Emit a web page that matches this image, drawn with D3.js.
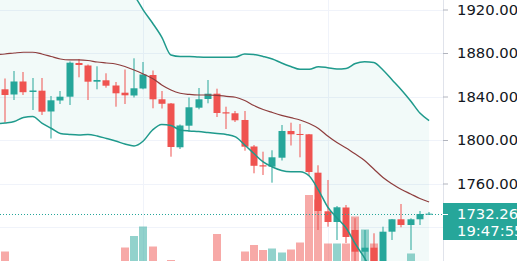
<!DOCTYPE html>
<html><head><meta charset="utf-8">
<script src="https://cdn.jsdelivr.net/npm/d3@7/dist/d3.min.js"></script>
<style>html,body{margin:0;padding:0;background:#fff;overflow:hidden}svg{display:block}</style>
</head><body><svg id="c" width="517" height="261"></svg>
<script>
// index of each bar (bar -1 is just outside the left edge)
const bars = d3.range(-1, 47);
const open  = [1845,1846.63,1841.85,1853.80,1844.15,1845.34,1826.22,1836.33,1839.82,1870.81,1868.51,1853.62,1854.90,1850.12,1843.50,1840.93,1847.36,1859.78,1837.43,1833.57,1793.30,1813.16,1829.71,1837.71,1842.58,1825.48,1824.56,1818.40,1794.03,1776.75,1775.46,1783.73,1808.29,1805.53,1805.25,1769.94,1734.45,1724.61,1737.94,1717.25,1697.30,1700.98,1685.99,1715.69,1727.09,1721.85,1727.09,1731.97];
const high  = [1850,1856.56,1863.46,1862.54,1857.02,1857.02,1840.47,1845.07,1872.19,1874.49,1869.43,1867.78,1861.34,1853.34,1864.83,1875.13,1871.73,1863.92,1845.07,1834.03,1814.26,1839.09,1847.82,1855.18,1847.18,1830.63,1826.68,1826.68,1795.41,1789.25,1790.54,1813.80,1815.92,1814.72,1805.53,1776.75,1763.23,1739.32,1740.24,1728.01,1717.25,1714.22,1720.29,1727.37,1741.16,1728.01,1734.73,1733.81];
const low   = [1838,1816.10,1836.79,1841.39,1827.59,1823.00,1801.39,1833.11,1832.19,1857.66,1836.79,1846.63,1848.10,1830.63,1833.11,1839.09,1846.63,1829.16,1828.97,1784.65,1791.73,1807.64,1828.24,1833.76,1821.16,1810.12,1816.56,1790.17,1769.39,1767.83,1760.75,1781.16,1794.95,1784.10,1766.91,1717.25,1720.29,1708.06,1705.30,1687.83,1687.83,1682.31,1682.31,1708.06,1719.74,1698.86,1721.85,1731.05];
const close = [1847,1841.39,1853.80,1843.96,1845.53,1826.03,1836.51,1839.82,1871.09,1868.97,1853.62,1855.18,1849.94,1842.95,1841.11,1847.55,1860.24,1837.43,1833.30,1793.57,1813.34,1830.08,1837.43,1842.58,1824.84,1824.38,1818.12,1793.85,1776.29,1775.64,1784.10,1808.29,1805.25,1804.88,1770.59,1734.73,1724.61,1738.13,1710.82,1697.30,1700.98,1685.99,1715.69,1727.09,1721.85,1727.09,1731.97,1732.26];
const volume = [30,47,20,15,18,22,25,12,26,14,18,20,16,22,55,78,97,57,24,30,20,18,22,16,82,24,20,47,60,50,53,45,51,65,160,151,63,63,63,117,91,63,26,20,18,43,20,10];
const bbUpper = [1965.5,1965.5,1965.5,1965.5,1965.5,1965.5,1965.5,1965.5,1963.7,1961.8,1960.9,1959.1,1956.3,1951.7,1945.3,1933.3,1919.5,1907.6,1894.7,1878.2,1876.8,1876.8,1876.3,1876.1,1876.1,1876.1,1876.3,1879.1,1878.6,1876.8,1874.5,1870.8,1867.6,1865.0,1865.0,1867.4,1866.5,1865.3,1865.8,1870.4,1872.0,1871.3,1864.4,1855.2,1846.0,1835.9,1824.8,1817.9];
const bbBasis = [1878.6,1879.1,1880.0,1880.7,1880.7,1879.1,1876.8,1874.5,1873.6,1873.6,1873.1,1871.7,1870.8,1869.9,1867.6,1864.4,1860.7,1856.6,1850.6,1846.0,1843.0,1841.9,1841.4,1841.4,1841.1,1840.2,1839.3,1836.3,1831.7,1828.1,1825.3,1822.7,1820.5,1818.4,1815.2,1810.6,1803.7,1797.7,1792.7,1787.1,1781.2,1773.3,1765.5,1759.6,1754.5,1750.4,1746.2,1743.0];
const bbLower = [1814.7,1815.6,1817.0,1820.7,1821.6,1815.6,1810.8,1806.0,1805.1,1804.6,1805.1,1803.7,1801.4,1799.1,1796.3,1794.5,1799.1,1809.2,1814.3,1813.3,1809.2,1808.3,1807.8,1806.9,1806.0,1805.1,1802.8,1795.4,1787.6,1779.8,1775.2,1772.0,1770.9,1770.9,1766.9,1754.0,1738.4,1728.3,1719.1,1704.4,1691.5,1675.9,1666.7,1663.9,1663.0,1664.8,1667.6,1668.5];
const priceTicks = [1720, 1760, 1800, 1840, 1880, 1920];
const timeGridBars = [15, 35];
const lastPrice = 1732.26;
const countdown = "19:47:55";

const W = 517, H = 261, AX = 443;
const UP = "#26a69a", DN = "#ef5350";
const FONT = "DejaVu Sans", FS = "14.8px";
const svg = d3.select("#c");
const x = d3.scaleLinear().domain([0, 46]).range([5, 429.1]);
const y = d3.scaleLinear().domain([1760, 1920]).range([183.5, 9.5]);
const yv = d3.scaleLinear().domain([0, 160]).range([275, 195]);

const data = bars.map((b, i) => ({b, o: open[i], h: high[i], l: low[i], c: close[i], v: volume[i],
  up: bbUpper[i], mid: bbBasis[i], lo: bbLower[i]}));

// grid
const grid = svg.append("g");
grid.selectAll("line.h").data(priceTicks).join("line")
  .attr("x1", 0).attr("x2", AX).attr("y1", d => Math.round(y(d)) + 0.5).attr("y2", d => Math.round(y(d)) + 0.5)
  .attr("stroke", "#f0f3fa");
grid.selectAll("line.v").data(timeGridBars).join("line")
  .attr("y1", 0).attr("y2", H).attr("x1", d => Math.round(x(d)) + 0.5).attr("x2", d => Math.round(x(d)) + 0.5)
  .attr("stroke", "#f0f3fa");

// band fill
svg.append("path").datum(data)
  .attr("d", d3.area().x(d => x(d.b)).y0(d => y(d.lo)).y1(d => y(d.up)).curve(d3.curveMonotoneX))
  .attr("fill", "rgba(38,166,154,0.06)");

// volume
svg.append("g").selectAll("rect").data(data).join("rect")
  .attr("x", d => Math.round(x(d.b) - 4)).attr("width", 8)
  .attr("y", d => yv(d.v)).attr("height", d => yv(0) - yv(d.v))
  .attr("fill", d => d.c >= d.o ? "rgba(38,166,154,0.5)" : "rgba(239,83,80,0.5)");

// candles
const cg = svg.append("g");
cg.selectAll("rect.w").data(data).join("rect")
  .attr("x", d => Math.round(x(d.b)) - 0.5).attr("width", 1)
  .attr("y", d => y(d.h)).attr("height", d => y(d.l) - y(d.h))
  .attr("fill", d => d.c >= d.o ? UP : DN);
cg.selectAll("rect.b").data(data).join("rect")
  .attr("x", d => Math.round(x(d.b)) - 3.5).attr("width", 7)
  .attr("y", d => y(Math.max(d.o, d.c)))
  .attr("height", d => Math.max(1, Math.abs(y(d.o) - y(d.c))))
  .attr("fill", d => d.c >= d.o ? UP : DN);

// bands
const line = k => d3.line().x(d => x(d.b)).y(d => y(d[k])).curve(d3.curveMonotoneX);
svg.append("path").datum(data).attr("d", line("up")).attr("fill", "none").attr("stroke", "#1f9a8c").attr("stroke-width", 1.5);
svg.append("path").datum(data).attr("d", line("lo")).attr("fill", "none").attr("stroke", "#1f9a8c").attr("stroke-width", 1.5);
svg.append("path").datum(data).attr("d", line("mid")).attr("fill", "none").attr("stroke", "#8e3d3d").attr("stroke-width", 1.2);

// last price line
svg.append("line").attr("x1", 0).attr("x2", AX).attr("y1", Math.round(y(lastPrice)) + 0.5).attr("y2", Math.round(y(lastPrice)) + 0.5)
  .attr("stroke", UP).attr("stroke-dasharray", "1,2");

// axis area
svg.append("rect").attr("x", AX).attr("y", 0).attr("width", W - AX).attr("height", H).attr("fill", "#fff");
svg.append("line").attr("x1", AX + 0.5).attr("x2", AX + 0.5).attr("y1", 0).attr("y2", H).attr("stroke", "#e0e3eb");
const ax = svg.append("g").attr("transform", `translate(${AX},0)`)
  .call(d3.axisRight(y).tickValues(priceTicks).tickFormat(d3.format(".2f")).tickSize(5).tickPadding(9));
ax.select(".domain").remove();
ax.selectAll("line").attr("stroke", "#b2b5be");
ax.selectAll("text").attr("fill", "#131722").style("font-family", FONT).style("font-size", FS);

// last price label
const ly = y(lastPrice);
svg.append("rect").attr("x", AX).attr("y", 203).attr("width", W - AX).attr("height", 37).attr("fill", UP);
svg.append("line").attr("x1", AX).attr("x2", AX + 5).attr("y1", Math.round(ly) + 0.5).attr("y2", Math.round(ly) + 0.5).attr("stroke", "#fff");
svg.append("text").attr("x", AX + 14).attr("y", ly).attr("dy", "0.35em").text(d3.format(".2f")(lastPrice))
  .attr("fill", "#fff").style("font-family", FONT).style("font-size", FS);
svg.append("text").attr("x", AX + 14).attr("y", ly + 17).attr("dy", "0.35em").text(countdown)
  .attr("fill", "#fff").style("font-family", FONT).style("font-size", FS);
</script></body></html>
